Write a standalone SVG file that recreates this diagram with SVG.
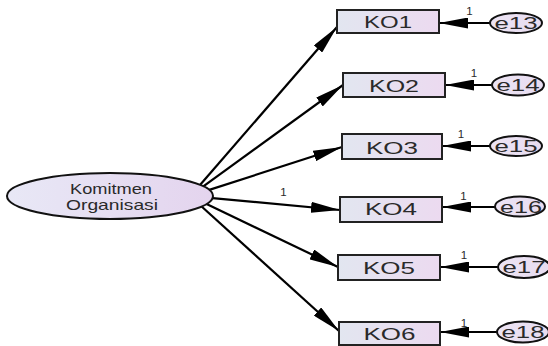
<svg xmlns="http://www.w3.org/2000/svg" width="548" height="346" viewBox="0 0 548 346">
<defs>
<linearGradient id="gBox" x1="0" y1="0" x2="1" y2="0">
<stop offset="0" stop-color="#e2e6f0"/>
<stop offset="1" stop-color="#ecdaf0"/>
</linearGradient>
<linearGradient id="gEll" x1="0" y1="0" x2="1" y2="0">
<stop offset="0" stop-color="#e8e8f6"/>
<stop offset="1" stop-color="#e4d4ee"/>
</linearGradient>
<linearGradient id="gErr" x1="0" y1="0" x2="1" y2="0">
<stop offset="0" stop-color="#ece4f4"/>
<stop offset="1" stop-color="#e8dcf0"/>
</linearGradient>
<marker id="ah" markerUnits="userSpaceOnUse" markerWidth="29" markerHeight="11" refX="29" refY="5.5" orient="auto">
<path d="M0,0 L29,5.5 L0,11 z" fill="#000"/>
</marker>
<style>
.box{fill:url(#gBox);stroke:#222;stroke-width:2}
.err{fill:url(#gErr);stroke:#111;stroke-width:2}
.lat{fill:url(#gEll);stroke:#111;stroke-width:2}
.ko{font-family:"Liberation Sans",Arial,sans-serif;font-size:16.5px;fill:#2a2a2a;text-anchor:middle}
.et{font-family:"Liberation Sans",Arial,sans-serif;font-size:17px;fill:#2a2a2a;text-anchor:middle}
.lt{font-family:"Liberation Sans",Arial,sans-serif;font-size:14.5px;fill:#2a2a2a;text-anchor:middle}
.one{font-family:"Liberation Sans",Arial,sans-serif;font-size:11.5px;fill:#2a2a2a;text-anchor:middle}
.main{stroke:#000;stroke-width:2.2;fill:none;marker-end:url(#ah)}
.el{stroke:#000;stroke-width:1.8;fill:none;marker-end:url(#ah)}
</style>
</defs>
<rect width="548" height="346" fill="#fff"/>
<g id="connectors">
<line class="main" x1="200" y1="185" x2="337" y2="27"/>
<line class="main" x1="203.3" y1="186.3" x2="343" y2="85"/>
<line class="main" x1="209.3" y1="189.9" x2="342" y2="147"/>
<line class="main" x1="212.6" y1="198.1" x2="340" y2="210"/>
<line class="main" x1="206.6" y1="204" x2="338" y2="267"/>
<line class="main" x1="201.6" y1="206.5" x2="339" y2="331"/>
<line class="el" x1="490" y1="23" x2="439" y2="23"/>
<line class="el" x1="492" y1="85" x2="445" y2="85"/>
<line class="el" x1="490" y1="146" x2="442" y2="146"/>
<line class="el" x1="495" y1="207" x2="442" y2="207"/>
<line class="el" x1="498" y1="267" x2="440" y2="267"/>
<line class="el" x1="497" y1="332" x2="440" y2="332"/>
<text class="one" x="283.5" y="196">1</text>
<text class="one" x="469.5" y="15">1</text>
<text class="one" x="474" y="77">1</text>
<text class="one" x="461" y="138">1</text>
<text class="one" x="463.5" y="200">1</text>
<text class="one" x="464" y="259">1</text>
<text class="one" x="464" y="327">1</text>
</g>
<g id="komitmen">
<ellipse class="lat" cx="110" cy="196" rx="103" ry="23"/>
<text class="lt" x="111" y="194" textLength="82" lengthAdjust="spacingAndGlyphs">Komitmen</text>
<text class="lt" x="112" y="209.5" textLength="92" lengthAdjust="spacingAndGlyphs">Organisasi</text>
</g>
<g id="KO1"><rect class="box" x="337" y="10" width="102" height="23"/><text class="ko" x="388" y="28" textLength="48" lengthAdjust="spacingAndGlyphs">KO1</text></g>
<g id="KO2"><rect class="box" x="343" y="73" width="102" height="24"/><text class="ko" x="394" y="91.5" textLength="50" lengthAdjust="spacingAndGlyphs">KO2</text></g>
<g id="KO3"><rect class="box" x="342" y="134" width="100" height="25"/><text class="ko" x="392" y="153.5" textLength="52" lengthAdjust="spacingAndGlyphs">KO3</text></g>
<g id="KO4"><rect class="box" x="340" y="197" width="102" height="25"/><text class="ko" x="391" y="215" textLength="52" lengthAdjust="spacingAndGlyphs">KO4</text></g>
<g id="KO5"><rect class="box" x="338" y="255" width="102" height="25"/><text class="ko" x="389" y="273.5" textLength="52" lengthAdjust="spacingAndGlyphs">KO5</text></g>
<g id="KO6"><rect class="box" x="339" y="322" width="101" height="23"/><text class="ko" x="389.5" y="340" textLength="52" lengthAdjust="spacingAndGlyphs">KO6</text></g>
<g id="e13"><ellipse class="err" cx="516" cy="23" rx="26" ry="10"/><text class="et" x="516" y="29" textLength="43" lengthAdjust="spacingAndGlyphs">e13</text></g>
<g id="e14"><ellipse class="err" cx="518" cy="85" rx="26" ry="10.5"/><text class="et" x="518" y="91" textLength="43" lengthAdjust="spacingAndGlyphs">e14</text></g>
<g id="e15"><ellipse class="err" cx="516" cy="146" rx="26" ry="10"/><text class="et" x="516" y="152" textLength="43" lengthAdjust="spacingAndGlyphs">e15</text></g>
<g id="e16"><ellipse class="err" cx="520" cy="206.5" rx="25" ry="10"/><text class="et" x="521" y="212.5" textLength="42" lengthAdjust="spacingAndGlyphs">e16</text></g>
<g id="e17"><ellipse class="err" cx="524" cy="267" rx="26" ry="11"/><text class="et" x="524" y="273" textLength="43" lengthAdjust="spacingAndGlyphs">e17</text></g>
<g id="e18"><ellipse class="err" cx="523" cy="332" rx="26" ry="10.5"/><text class="et" x="523" y="338" textLength="43" lengthAdjust="spacingAndGlyphs">e18</text></g>
</svg>
